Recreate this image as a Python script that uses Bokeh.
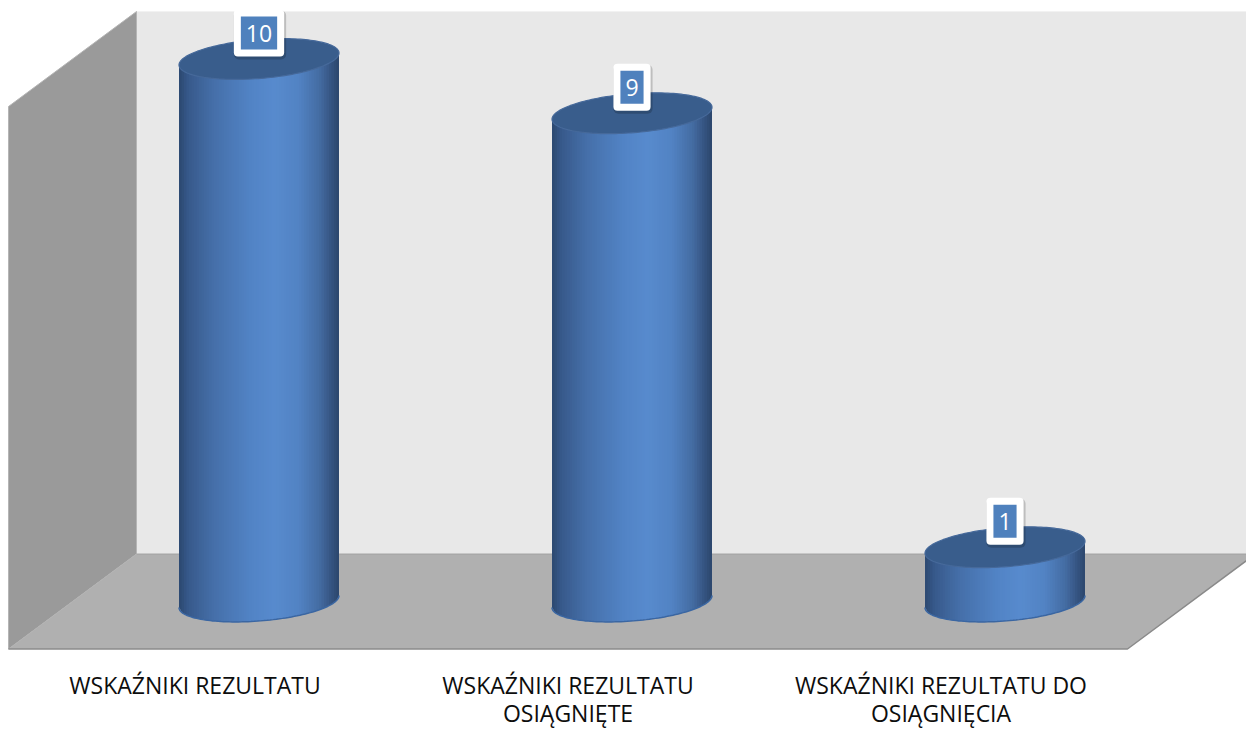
import numpy as np
from bokeh.plotting import figure
from bokeh.models import Range1d, ColumnDataSource
from bokeh.embed import file_html
from bokeh.resources import INLINE
from bokeh.core.properties import value

# ---------------- data ----------------
categories = ["WSKAŹNIKI REZULTATU",
              "WSKAŹNIKI REZULTATU\nOSIĄGNIĘTE",
              "WSKAŹNIKI REZULTATU DO\nOSIĄGNIĘCIA"]
values = [10, 9, 1]
value_labels = ["10", "9", "1"]
axis_max = 10

# ---------------- layout / scales ----------------
W, H = 1246, 731
KX = 373.0          # px per category unit
KY = 54.25          # px per value unit
X0 = 72             # px of category 0 (mid depth)
Y0 = 601            # px (from top) of value 0 (mid depth)
DU = 64.0 / KX      # half depth offset (x)
DV = 47.5 / KY      # half depth offset (y)
R = 80.0 / KX       # cylinder radius in x units
RY = 19.5 / KY      # ellipse half-height in value units
SHEAR = (12.0 / 160.0) * KX / KY   # tilt of ellipses
PXU = 1.0 / KX      # one pixel in x units

p = figure(width=W, height=H, output_backend="svg", toolbar_location=None,
           x_range=Range1d(-X0 / KX, (W - X0) / KX),
           y_range=Range1d((Y0 - H) / KY, Y0 / KY),
           x_axis_type=None, y_axis_type=None, min_border=0)
p.outline_line_color = None
p.grid.visible = False
p.background_fill_color = "white"
p.border_fill_color = "white"

n = len(values)

# ---------------- walls & floor ----------------
p.patch([DU, n + DU + 0.2, n + DU + 0.2, DU],
        [DV, DV, axis_max + DV, axis_max + DV],
        fill_color="#e8e8e8", line_color="#f2f2f2", line_width=1)
p.patch([DU, DU, -DU, -DU],
        [DV, axis_max + DV, axis_max - DV, -DV],
        fill_color="#9a9a9a", line_color="#b5b5b5", line_width=1)
p.patch([-DU, n - DU, n + DU, DU],
        [-DV, -DV, DV, DV],
        fill_color="#b0b0b0", line_color=None)
p.line([-DU, n - DU, n + DU], [-DV, -DV, DV], line_color="#8a8a8a", line_width=1.5)
p.line([DU, n + DU], [DV, DV], line_color="#a0a0a0", line_width=1)

# ---------------- cylinders ----------------
stops_t = [0.0, 0.06, 0.22, 0.45, 0.6, 0.75, 0.88, 0.95, 1.0]
stops_c = [(44, 72, 112), (56, 90, 140), (70, 112, 170), (82, 132, 198),
           (88, 139, 206), (82, 131, 196), (68, 108, 162), (54, 85, 130), (44, 70, 108)]


def grad(t):
    r = np.interp(t, stops_t, [c[0] for c in stops_c])
    g = np.interp(t, stops_t, [c[1] for c in stops_c])
    b = np.interp(t, stops_t, [c[2] for c in stops_c])
    return "#%02x%02x%02x" % (int(r), int(g), int(b))


def bottom(d):
    return SHEAR * d - RY * np.sqrt(max(0.0, 1 - (d / R) ** 2))


NS = 64
xs, ys, cols = [], [], []
for i, v in enumerate(values):
    cu = i + 0.5
    edges = np.linspace(-R, R, NS + 1)
    for k in range(NS):
        a = edges[k]
        b = edges[k + 1] if k == NS - 1 else edges[k + 1] + 0.8 * PXU
        b = min(b, R)
        xs.append([cu + a, cu + b, cu + b, cu + a])
        ys.append([v + SHEAR * a, v + SHEAR * b, bottom(b), bottom(a)])
        cols.append(grad((k + 0.5) / NS))
body = ColumnDataSource(dict(xs=xs, ys=ys, c=cols))
p.patches("xs", "ys", source=body, fill_color="c", line_color=None)

th = np.linspace(0, 2 * np.pi, 160)
thb = np.linspace(np.pi, 2 * np.pi, 80)
for i, v in enumerate(values):
    cu = i + 0.5
    d = R * np.cos(thb)
    p.line(cu + d, SHEAR * d + RY * np.sin(thb), line_color="#3a66a2", line_width=1.5)
    d = R * np.cos(th)
    p.patch(cu + d, v + SHEAR * d + RY * np.sin(th),
            fill_color="#395d8c", line_color="#46699a", line_width=1.2)

# ---------------- value labels ----------------
lab = ColumnDataSource(dict(x=[i + 0.5 for i in range(n)], y=values, t=value_labels))
common = dict(x="x", y="y", text="t", source=lab, text_align="center",
              text_baseline="middle", text_font=value("Open Sans"),
              text_font_size="23px")
p.text(x_offset=1, y_offset=-24, text_color=None,
       background_fill_color="#000000", background_fill_alpha=0.18,
       padding=dict(left=13, right=13, top=16, bottom=16), border_radius=5, **common)
p.text(y_offset=-26, text_color="white", background_fill_color="white",
       padding=dict(left=12, right=12, top=15, bottom=15), border_radius=4, **common)
p.text(y_offset=-26, text_color="white", background_fill_color="#4f81bd",
       padding=dict(left=5, right=5, top=8, bottom=8), **common)

# ---------------- category labels ----------------
l1x, l1t, l2x, l2t = [], [], [], []
for i, c in enumerate(categories):
    parts = c.split("\n")
    l1x.append(i + 0.5 - DU)
    l1t.append(parts[0])
    if len(parts) > 1:
        l2x.append(i + 0.5 - DU)
        l2t.append(parts[1])
cat_style = dict(text_align="center", text_baseline="middle",
                 text_font=value("Open Sans"), text_font_size="23px",
                 text_color="#0d0d0d")
p.text(x=l1x, y=[-DV] * len(l1x), text=l1t, y_offset=36, **cat_style)
p.text(x=l2x, y=[-DV] * len(l2x), text=l2t, y_offset=64, **cat_style)

open("out.html", "w").write(file_html(p, INLINE))
